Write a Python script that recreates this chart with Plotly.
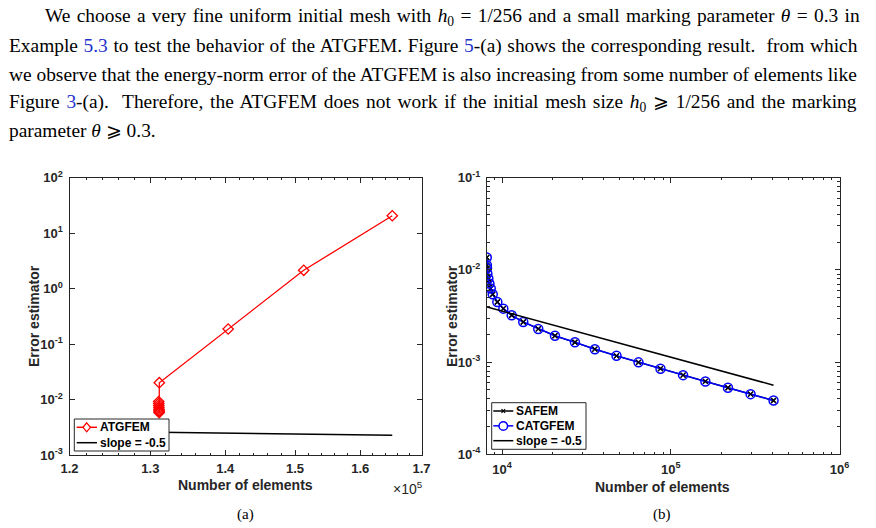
import plotly.graph_objects as go
import numpy as np

W, H = 876, 528

# ---------------- data ----------------
# (a) ATGFEM, h0 = 1/256, theta = 0.3
atg_x = [131072, 131080, 131090, 131100, 131110, 131120, 131130, 131140, 131150, 140400, 151300, 165150]
atg_y = [0.0092, 0.0085, 0.0078, 0.0072, 0.0067, 0.0063, 0.0060, 0.0058, 0.0201, 0.187, 2.14, 20.6]
slope_a_x = [131072, 165150]
slope_a_y = [0.00256, 0.00228]

# (b) SAFEM / CATGFEM
cat_x = [8120, 8135, 8150, 8185, 8300, 8415, 8575, 8810, 9380, 10180, 11410, 13360,
         16400, 20600, 27050, 35500, 47700, 64400, 86900, 118300, 160400, 218300,
         297300, 406600]
cat_y = [0.01364, 0.01125, 0.01045, 0.00914, 0.00807, 0.00712, 0.00628, 0.00544,
         0.00449, 0.00380, 0.00322, 0.00272, 0.00229, 0.00193, 0.00164, 0.00138,
         0.00117, 0.000994, 0.000848, 0.000722, 0.000617, 0.000527, 0.000449, 0.000383]
safem_x = cat_x
safem_y = cat_y
slope_b_x = [8150, 406600]
slope_b_y = [0.00396, 0.000561]

xa_ticks = [1.2e5, 1.3e5, 1.4e5, 1.5e5, 1.6e5, 1.7e5]
xa_text = ["1.2", "1.3", "1.4", "1.5", "1.6", "1.7"]
ya_ticks = [1e-3, 1e-2, 1e-1, 1e0, 1e1, 1e2]
ya_text = ["10<sup>-3</sup>", "10<sup>-2</sup>", "10<sup>-1</sup>", "10<sup>0</sup>", "10<sup>1</sup>", "10<sup>2</sup>"]
xb_ticks = [1e4, 1e5, 1e6]
xb_text = ["10<sup>4</sup>", "10<sup>5</sup>", "10<sup>6</sup>"]
yb_ticks = [1e-4, 1e-3, 1e-2, 1e-1]
yb_text = ["10<sup>-4</sup>", "10<sup>-3</sup>", "10<sup>-2</sup>", "10<sup>-1</sup>"]

legend_a = ["ATGFEM", "slope = -0.5"]
legend_b = ["SAFEM", "CATGFEM", "slope = -0.5"]

xa_minor = [1.2e5 + 2e3 * i for i in range(26)]
xb_minor = [m * 10 ** e for e in (3, 4, 5) for m in range(2, 10)]
yb_minor = [m * 10.0 ** e for e in (-4, -3, -2) for m in range(2, 10)]

RED, BLUE, AX = "#FF0000", "#0000FF", "#262626"

# ---------------- figure ----------------
fig = go.Figure()

fig.add_trace(go.Scatter(x=atg_x, y=atg_y, mode="lines+markers", name=legend_a[0],
                         line=dict(color=RED, width=1.3),
                         marker=dict(symbol="diamond-open", size=8, color=RED, line=dict(width=1.3)),
                         xaxis="x", yaxis="y"))
fig.add_trace(go.Scatter(x=slope_a_x, y=slope_a_y, mode="lines", name=legend_a[1],
                         line=dict(color="black", width=1.5), xaxis="x", yaxis="y"))

fig.add_trace(go.Scatter(x=safem_x, y=safem_y, mode="lines+markers", name=legend_b[0],
                         line=dict(color="black", width=1.3),
                         marker=dict(symbol="x-thin-open", size=5, color="black", line=dict(width=1.2, color="black")),
                         xaxis="x2", yaxis="y2"))
fig.add_trace(go.Scatter(x=cat_x, y=cat_y, mode="lines", name=legend_b[1],
                         line=dict(color=BLUE, width=1.5), xaxis="x2", yaxis="y2"))
fig.add_trace(go.Scatter(x=safem_x, y=safem_y, mode="markers", name=legend_b[0],
                         marker=dict(symbol="x-thin-open", size=5, color="black", line=dict(width=1.2, color="black")),
                         xaxis="x2", yaxis="y2"))
fig.add_trace(go.Scatter(x=cat_x, y=cat_y, mode="markers", name=legend_b[1],
                         marker=dict(symbol="circle-open", size=9, color=BLUE, line=dict(width=1.5)),
                         xaxis="x2", yaxis="y2"))
fig.add_trace(go.Scatter(x=slope_b_x, y=slope_b_y, mode="lines", name=legend_b[2],
                         line=dict(color="black", width=1.5), xaxis="x2", yaxis="y2"))

tickfont = dict(family="Liberation Sans", size=13, color=AX, weight="bold")
common = dict(showline=True, linecolor=AX, linewidth=1, mirror="allticks", ticks="inside",
              ticklen=5, tickcolor=AX, tickfont=tickfont, showgrid=False, zeroline=False,
              automargin=False)

fig.update_layout(
    template="none",
    width=W, height=H, margin=dict(l=0, r=0, t=0, b=0, pad=0, autoexpand=False),
    paper_bgcolor="white", plot_bgcolor="white", showlegend=False,
    xaxis=dict(type="log", domain=[69.5 / W, 421.5 / W], anchor="y",
               range=[np.log10(1.2e5), np.log10(1.7e5)],
               tickvals=xa_ticks, ticktext=xa_text, ticklabelstandoff=1,
               minor=dict(tickvals=xa_minor, ticks="inside", ticklen=2.5, tickcolor=AX), **common),
    yaxis=dict(type="log", domain=[1 - 455 / H, 1 - 177.7 / H], anchor="x",
               range=[-3, 2], tickvals=ya_ticks, ticktext=ya_text, ticklabelstandoff=3, **common),
    xaxis2=dict(type="log", domain=[487 / W, 839.5 / W], anchor="y2",
                range=[3.911, 6], tickvals=xb_ticks, ticktext=xb_text, ticklabelstandoff=3,
                minor=dict(tickvals=xb_minor, ticks="inside", ticklen=2.5, tickcolor=AX), **common),
    yaxis2=dict(type="log", domain=[1 - 454.3 / H, 1 - 177.7 / H], anchor="x2",
                range=[-4, -1], tickvals=yb_ticks, ticktext=yb_text, ticklabelstandoff=3,
                minor=dict(tickvals=yb_minor, ticks="inside", ticklen=2.5, tickcolor=AX), **common),
)

def px(x):
    return x / W

def py(y):
    return 1 - y / H

ann, shp = [], []

def A(text, x, y, font, **kw):
    d = dict(text=text, x=px(x), y=py(y), xref="paper", yref="paper", showarrow=False,
             font=font, xanchor=kw.pop("xanchor", "center"), yanchor=kw.pop("yanchor", "middle"),
             borderpad=0)
    d.update(kw)
    ann.append(d)

def line(x0, y0, x1, y1, color, width=1.5):
    shp.append(dict(type="line", xref="paper", yref="paper", x0=px(x0), y0=py(y0), x1=px(x1), y1=py(y1),
                    line=dict(color=color, width=width)))

# ---- legends (drawn by hand to match the MATLAB style) ----
legfont = dict(family="Liberation Sans", size=12, color="black", weight="bold")
# (a)
shp.append(dict(type="rect", xref="paper", yref="paper", x0=px(74.3), y0=py(451), x1=px(169), y1=py(419),
                fillcolor="white", line=dict(color=AX, width=1)))
for i, (lbl, col) in enumerate(zip(legend_a, [RED, "black"])):
    yy = 427.3 + i * 15.4
    line(76.7, yy, 97, yy, col, 1.5)
    A(lbl, 98.5, yy, legfont, xanchor="left")
cx, cy = 86.7, 427.3
shp.append(dict(type="path", xref="paper", yref="paper",
                path=f"M {px(cx)},{py(cy-4.5)} L {px(cx+3.7)},{py(cy)} L {px(cx)},{py(cy+4.5)} L {px(cx-3.7)},{py(cy)} Z",
                line=dict(color=RED, width=1.3), fillcolor="white"))
# (b)
shp.append(dict(type="rect", xref="paper", yref="paper", x0=px(491.7), y0=py(449.3), x1=px(586), y1=py(402.7),
                fillcolor="white", line=dict(color=AX, width=1)))
for i, (lbl, col) in enumerate(zip(legend_b, ["black", BLUE, "black"])):
    yy = 411 + i * 14.85
    line(493.3, yy, 513.3, yy, col, 1.5)
    A(lbl, 514.5, yy, legfont, xanchor="left")
line(501.5, 409.2, 505.1, 412.8, "black", 1.2)
line(501.5, 412.8, 505.1, 409.2, "black", 1.2)
shp.append(dict(type="circle", xref="paper", yref="paper",
                x0=px(499), y0=py(421.7), x1=px(507.6), y1=py(430.3),
                line=dict(color=BLUE, width=1.5), fillcolor="white"))
for s in shp:
    s.setdefault("layer", "above")

titlefont = dict(family="Liberation Sans", size=14, color=AX, weight="bold")
A("Number of elements", 245, 484.5, titlefont)
A("Number of elements", 662, 486.5, titlefont)
A("Error estimator", 34, 316, titlefont, textangle=-90)
A("Error estimator", 452, 316, titlefont, textangle=-90)
A("×10<sup>5</sup>", 408, 488, dict(family="Liberation Sans", size=14, color=AX))

A("(a)", 245, 514, dict(family="Liberation Serif", size=15, color="black"))
A("(b)", 662, 514, dict(family="Liberation Serif", size=15, color="black"))

serif = dict(family="Liberation Serif", size=19.4, color="black")
LK = "<span style='color:#2233CC'>%s</span>"
para_lines = [
    (44, 17, 1.5, "We choose a very fine uniform initial mesh with <i>h</i><sub>0</sub> = 1/256 and a small marking parameter <i>θ</i> = 0.3 in"),
    (8, 46, 0.8, "Example " + LK % "5.3" + " to test the behavior of the ATGFEM. Figure " + LK % "5" + "-(a) shows the corresponding result.  from which"),
    (8, 74, 0.0, "we observe that the energy-norm error of the ATGFEM is also increasing from some number of elements like"),
    (8, 103, 1.9, "Figure " + LK % "3" + "-(a).  Therefore, the ATGFEM does not work if the initial mesh size <i>h</i><sub>0</sub> ⩾ 1/256 and the marking"),
    (8, 131, 0.0, "parameter <i>θ</i> ⩾ 0.3."),
]
for x, y, ws, t in para_lines:
    A("<span style='word-spacing:%.1fpx'>%s</span>" % (ws, t), x, y, serif, xanchor="left")

fig.update_layout(annotations=ann, shapes=shp)
fig.write_html("out.html")
